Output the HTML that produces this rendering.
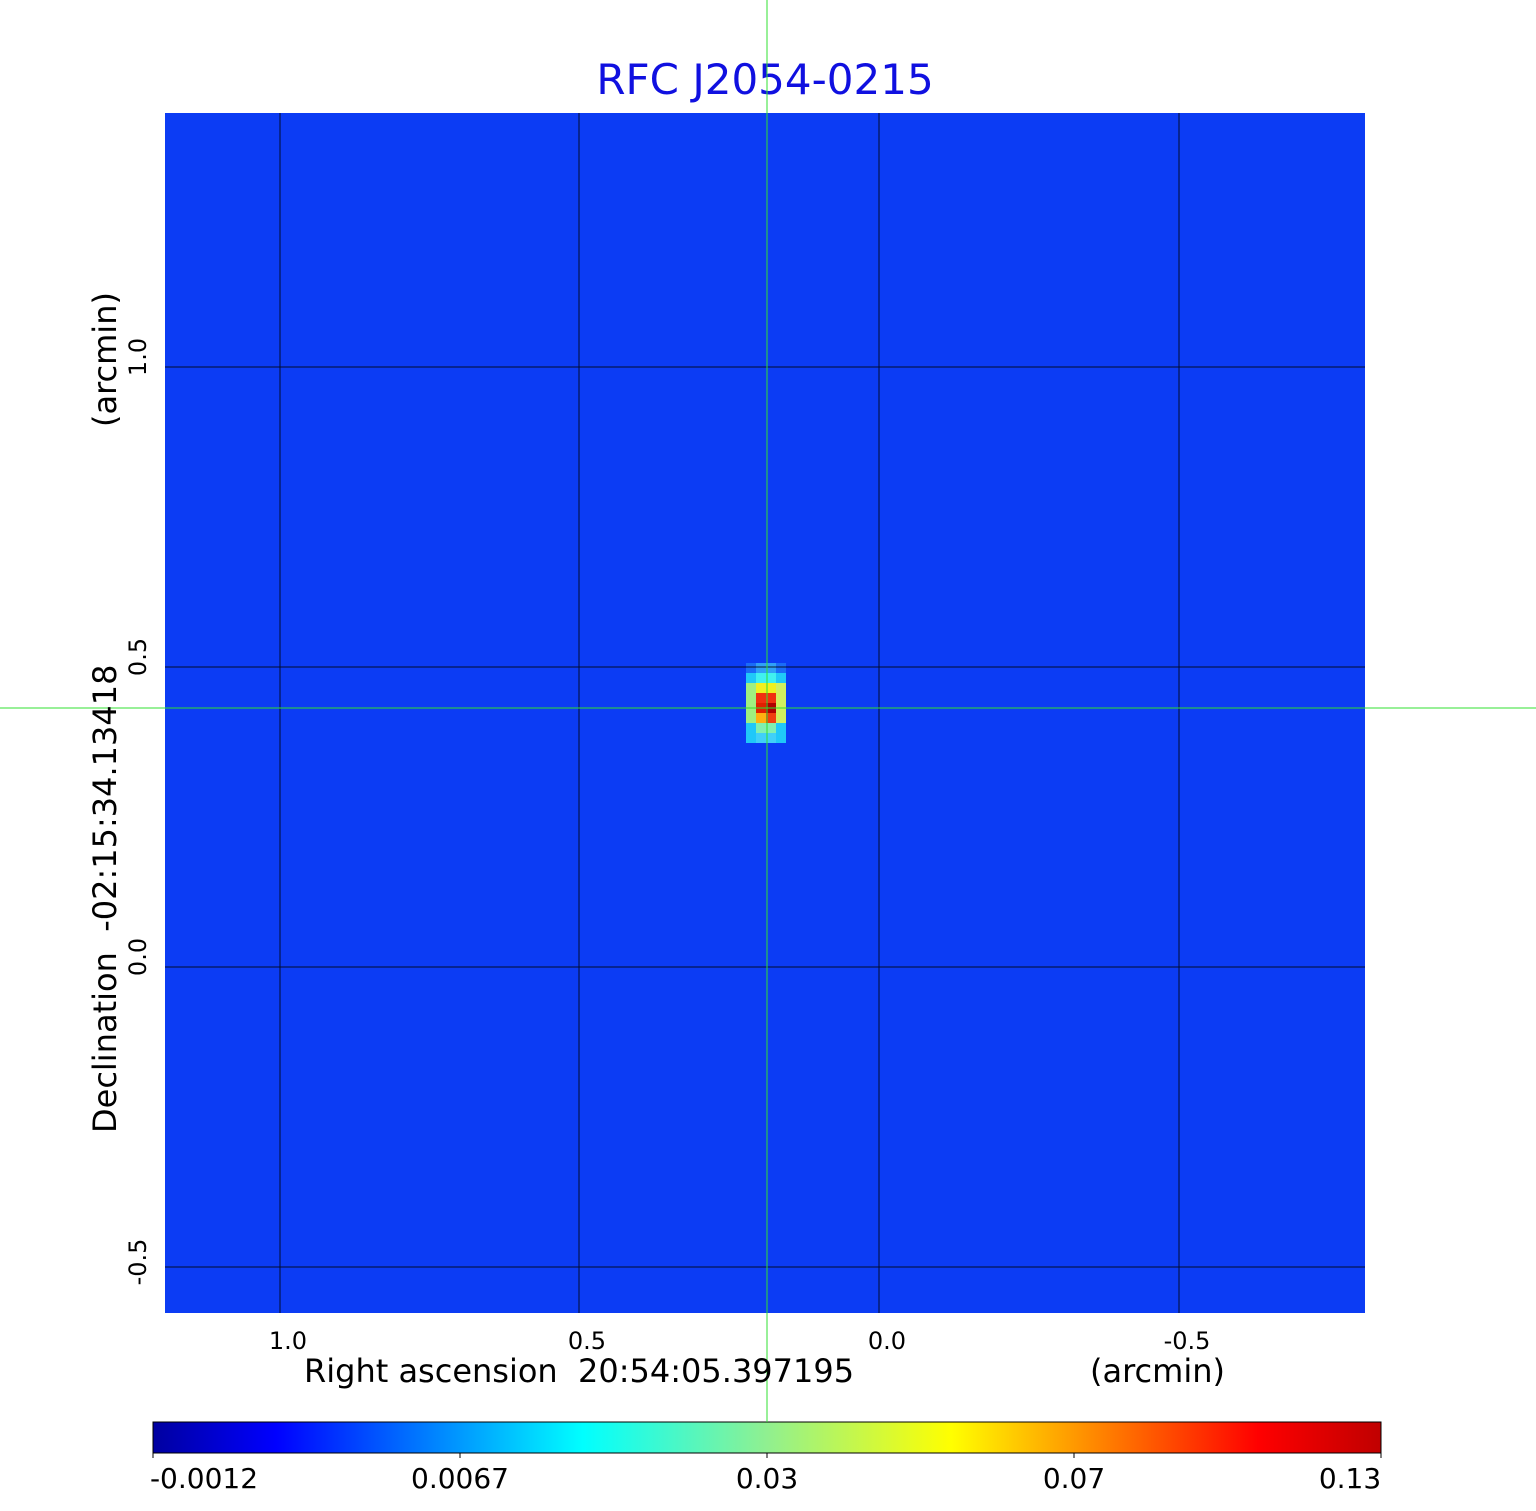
<!DOCTYPE html>
<html><head><style>body{margin:0;background:#fff}svg{display:block}text{white-space:pre}</style></head>
<body>
<svg width="1536" height="1511" xmlns="http://www.w3.org/2000/svg" font-family="DejaVu Sans, Liberation Sans, sans-serif">
<defs>
<linearGradient id="jet" x1="0" x2="1" y1="0" y2="0">
<stop offset="0" stop-color="#0000a0"/>
<stop offset="0.1" stop-color="#0000ff"/>
<stop offset="0.35" stop-color="#00ffff"/>
<stop offset="0.5" stop-color="#90f090"/>
<stop offset="0.65" stop-color="#ffff00"/>
<stop offset="0.9" stop-color="#ff0000"/>
<stop offset="1" stop-color="#c00000"/>
</linearGradient>
</defs>
<text x="765" y="94" font-size="42" fill="#1010e0" text-anchor="middle">RFC J2054-0215</text>
<rect x="165" y="113" width="1200" height="1200" fill="#0c3cf4"/>
<g>
<rect x="746" y="663" width="40" height="80" fill="#1a6cf8"/>
<rect x="746" y="673" width="40" height="70" fill="#20c8f8"/>
<rect x="756" y="663" width="20" height="10" fill="#30a0f8"/>
<rect x="756" y="673" width="20" height="10" fill="#40f0f0"/>
<rect x="756" y="683" width="30" height="10" fill="#f0f020"/>
<rect x="746" y="683" width="10" height="40" fill="#a0f080"/>
<rect x="776" y="683" width="10" height="40" fill="#d0f060"/>
<rect x="756" y="693" width="20" height="10" fill="#f03010"/>
<rect x="756" y="703" width="10" height="10" fill="#e02000"/>
<rect x="766" y="703" width="10" height="10" fill="#b00000"/>
<rect x="756" y="713" width="10" height="10" fill="#ffb010"/>
<rect x="766" y="713" width="10" height="10" fill="#f04010"/>
<rect x="756" y="723" width="20" height="10" fill="#80f0b0"/>
<rect x="756" y="733" width="20" height="10" fill="#40d0f8"/>
</g>
<g stroke="#000" stroke-width="1" opacity="0.8">
<line x1="280" y1="113" x2="280" y2="1313"/>
<line x1="579" y1="113" x2="579" y2="1313"/>
<line x1="879" y1="113" x2="879" y2="1313"/>
<line x1="1179" y1="113" x2="1179" y2="1313"/>
<line x1="165" y1="367" x2="1365" y2="367"/>
<line x1="165" y1="667" x2="1365" y2="667"/>
<line x1="165" y1="967" x2="1365" y2="967"/>
<line x1="165" y1="1267" x2="1365" y2="1267"/>
</g>
<g stroke="#30e030" stroke-width="1">
<line x1="767" y1="0" x2="767" y2="1418"/>
<line x1="0" y1="708" x2="1536" y2="708"/>
</g>
<g font-size="24" fill="#000" text-anchor="middle">
<text x="288" y="1349">1.0</text>
<text x="587" y="1349">0.5</text>
<text x="887" y="1349">0.0</text>
<text x="1187" y="1349">-0.5</text>
<text transform="translate(146,357) rotate(-90)">1.0</text>
<text transform="translate(146,657) rotate(-90)">0.5</text>
<text transform="translate(146,957) rotate(-90)">0.0</text>
<text transform="translate(146,1262) rotate(-90)">-0.5</text>
</g>
<g font-size="32" fill="#000">
<text x="304" y="1382">Right ascension  20:54:05.397195</text>
<text x="1090" y="1382">(arcmin)</text>
<text transform="translate(116,1133) rotate(-90)">Declination  -02:15:34.13418</text>
<text transform="translate(116,427) rotate(-90)">(arcmin)</text>
</g>
<rect x="153" y="1422" width="1228" height="31" fill="url(#jet)" stroke="#000" stroke-width="1"/>
<line x1="767" y1="1418" x2="767" y2="1422" stroke="#30e030"/>
<g stroke="#000"><line x1="153" y1="1453" x2="153" y2="1458"/><line x1="460" y1="1453" x2="460" y2="1458"/><line x1="767" y1="1453" x2="767" y2="1458"/><line x1="1074" y1="1453" x2="1074" y2="1458"/><line x1="1381" y1="1453" x2="1381" y2="1458"/></g>
<g font-size="28" fill="#000" text-anchor="middle">
<text x="204" y="1488">-0.0012</text>
<text x="460" y="1488">0.0067</text>
<text x="767" y="1488">0.03</text>
<text x="1074" y="1488">0.07</text>
<text x="1350" y="1488">0.13</text>
</g>
</svg>
</body></html>
